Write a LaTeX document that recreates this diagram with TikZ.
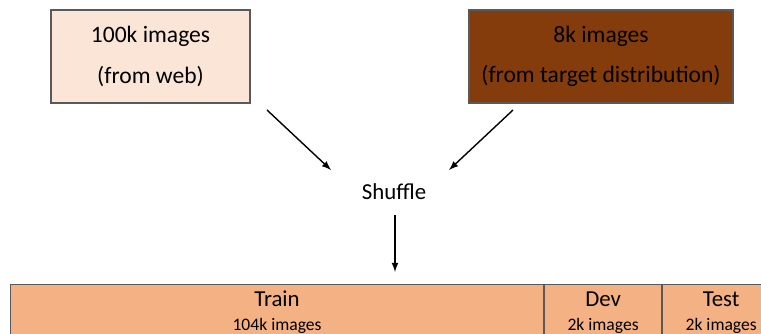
\documentclass[tikz,border=0pt]{standalone}
\usepackage{fontspec}
\setmainfont{Carlito}
\usepackage{tikz}
\usetikzlibrary{arrows}

\definecolor{webfill}{RGB}{251,229,214}
\definecolor{tgtfill}{RGB}{132,60,12}
\definecolor{splitfill}{RGB}{244,177,131}

\begin{document}
\begin{tikzpicture}[
  src/.style={draw=black!65, line width=0.6pt, minimum height=1.86cm, align=center,
    font=\fontsize{13.4}{23}\selectfont},
  cell/.style={draw=black!65, line width=0.6pt, fill=splitfill, anchor=north west,
    minimum height=1.12cm, inner sep=0pt, align=center},
  big/.style={font=\fontsize{13}{16}\selectfont}]
\useasboundingbox (0,0) rectangle (15.22,-6.66);

\node[src, fill=webfill, minimum width=3.98cm] (web) at (3.01,-1.13) {100k images\\(from web)};
\node[src, fill=tgtfill, minimum width=5.28cm] (target) at (12.02,-1.13) {8k images\\(from target distribution)};
\node[big] (shuffle) at (7.88,-3.84) {Shuffle};

\node[cell, minimum width=10.66cm] (train) at (0.2,-5.68) {{\fontsize{13}{16}\selectfont Train}\\[0.06cm]{\fontsize{10}{12}\selectfont 104k images}};
\node[cell, minimum width=2.34cm] (dev) at (train.north east) {{\fontsize{13}{16}\selectfont Dev}\\[0.06cm]{\fontsize{10}{12}\selectfont 2k images}};
\node[cell, minimum width=2.34cm] (test) at (dev.north east) {{\fontsize{13}{16}\selectfont Test}\\[0.06cm]{\fontsize{10}{12}\selectfont 2k images}};

\coordinate (w1) at (5.34,-2.2);
\coordinate (w2) at (6.62,-3.4);
\coordinate (t1) at (10.26,-2.2);
\coordinate (t2) at (8.98,-3.4);
\coordinate (s1) at (7.9,-4.3);
\coordinate (s2) at (7.9,-5.44);

\draw[-latex,thick] (w1) -- (w2);
\draw[-latex,thick] (t1) -- (t2);
\draw[-latex,thick] (s1) -- (s2);

\end{tikzpicture}
\end{document}
